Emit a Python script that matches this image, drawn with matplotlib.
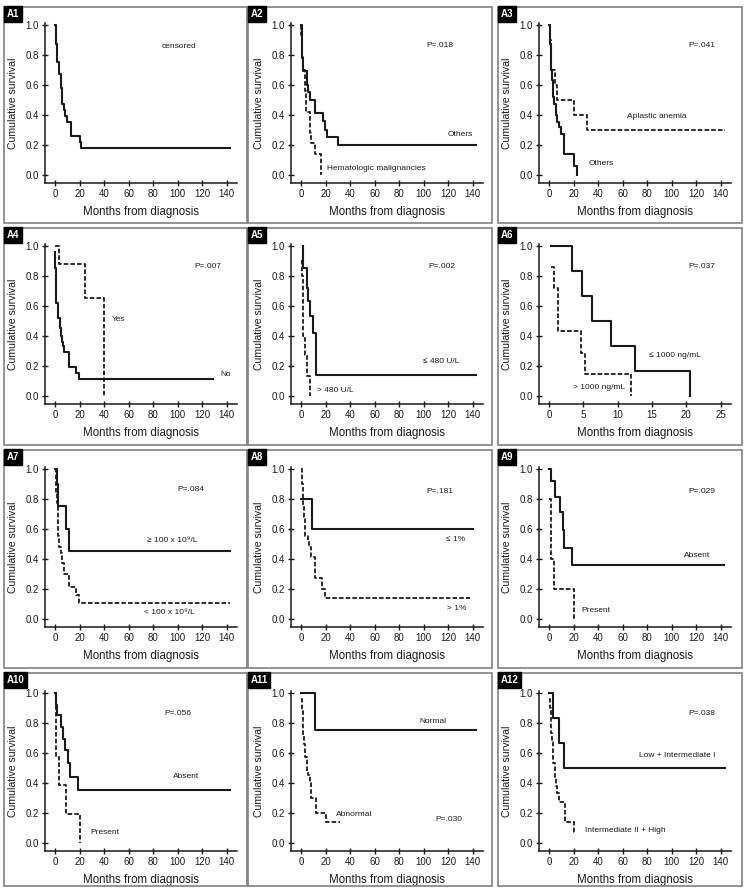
import matplotlib
matplotlib.use("Agg")
import matplotlib.pyplot as plt
from matplotlib.patches import Rectangle

plt.rcParams['font.family'] = ['Liberation Sans', 'DejaVu Sans']

# ---------------- data (event times, survival after event) ----------------
XLABEL = "Months from diagnosis"
YLABEL = "Cumulative survival"
panel_names = ["A1", "A2", "A3", "A4", "A5", "A6", "A7", "A8", "A9", "A10", "A11", "A12"]
y_ticks = [0.0, 0.2, 0.4, 0.6, 0.8, 1.0]
x_ticks_months = [0, 20, 40, 60, 80, 100, 120, 140]
x_ticks_a6 = [0, 5, 10, 15, 20, 25]

# A1
A1_solid_t = [1, 2, 3.5, 4.5, 6, 7.5, 8.5, 10, 13, 20, 21]
A1_solid_s = [0.87, 0.75, 0.67, 0.58, 0.47, 0.43, 0.39, 0.35, 0.26, 0.22, 0.18]
# A2
A2_solid_t = [0.5, 1, 2, 4.5, 6, 7.5, 11, 18, 19.5, 21.5, 30]
A2_solid_s = [0.95, 0.78, 0.69, 0.60, 0.55, 0.50, 0.41, 0.36, 0.30, 0.25, 0.20]
A2_dash_t = [0.3, 1, 2, 3, 4, 7, 8.5, 11, 16]
A2_dash_s = [0.93, 0.79, 0.70, 0.56, 0.42, 0.28, 0.21, 0.14, 0.0]
# A3
A3_solid_t = [0.8, 1.3, 2.2, 3, 4.3, 5.3, 6.5, 8.5, 9.5, 12.5, 20, 22.5]
A3_solid_s = [0.87, 0.70, 0.63, 0.52, 0.47, 0.40, 0.35, 0.32, 0.27, 0.14, 0.06, 0.0]
A3_dash_t = [1, 1.5, 2, 4.6, 6.5, 20.5, 31]
A3_dash_s = [0.9, 0.8, 0.7, 0.6, 0.5, 0.4, 0.3]
# A4
A4_solid_t = [0.3, 1, 2.8, 3.8, 4.5, 5.5, 6.3, 7.5, 11, 17.5, 19.5]
A4_solid_s = [0.85, 0.62, 0.52, 0.45, 0.40, 0.36, 0.33, 0.29, 0.19, 0.15, 0.11]
A4_dash_t = [3, 24.5, 40]
A4_dash_s = [0.875, 0.65, 0.0]
# A5
A5_solid_t = [1.5, 4.5, 5.5, 7, 9.5, 12.5]
A5_solid_s = [0.85, 0.72, 0.63, 0.53, 0.42, 0.14]
A5_dash_t = [0.5, 1.3, 2, 3.5, 4.8, 7.3]
A5_dash_s = [0.8, 0.6, 0.4, 0.27, 0.13, 0.0]
# A6
A6_solid_t = [3.4, 4.85, 6.2, 9.1, 12.5, 20.6]
A6_solid_s = [0.833, 0.667, 0.5, 0.333, 0.167, 0.0]
A6_dash_t = [0.8, 1.3, 4.7, 5.2, 12]
A6_dash_s = [0.714, 0.429, 0.286, 0.143, 0.0]
# A7
A7_solid_t = [1.3, 2.2, 8.6, 11.6]
A7_solid_s = [0.9, 0.75, 0.6, 0.45]
A7_dash_t = [0.5, 1.5, 2.5, 3.5, 4.5, 5.5, 7, 11.5, 17.5, 19.5]
A7_dash_s = [0.84, 0.77, 0.55, 0.48, 0.44, 0.37, 0.30, 0.21, 0.16, 0.105]
# A8
A8_solid_t = [8.8]
A8_solid_s = [0.6]
A8_dash_t = [0.7, 1.5, 2.5, 3.5, 5.5, 6.5, 7.8, 11, 17.5, 19.5]
A8_dash_s = [0.9, 0.75, 0.68, 0.55, 0.52, 0.48, 0.41, 0.27, 0.20, 0.14]
# A9
A9_solid_t = [1.9, 4.8, 8.9, 11.6, 12.4, 19.1]
A9_solid_s = [0.917, 0.81, 0.71, 0.59, 0.47, 0.355]
A9_dash_t = [1.9, 3.8, 20.5]
A9_dash_s = [0.4, 0.2, 0.0]
# A10
A10_solid_t = [0.8, 1.6, 4.6, 6.2, 8.4, 10.5, 11.9, 18.7]
A10_solid_s = [0.92, 0.85, 0.77, 0.69, 0.62, 0.53, 0.44, 0.35]
A10_dash_t = [0.5, 3.2, 8.7, 20.3]
A10_dash_s = [0.571, 0.381, 0.19, 0.0]
# A11
A11_solid_t = [11.6]
A11_solid_s = [0.75]
A11_dash_t = [0.6, 1.3, 2, 2.8, 3.5, 4.5, 6, 7, 8.5, 12, 20]
A11_dash_s = [0.88, 0.79, 0.72, 0.66, 0.57, 0.48, 0.45, 0.40, 0.30, 0.20, 0.135]
# A12
A12_solid_t = [3.2, 8.1, 11.9]
A12_solid_s = [0.833, 0.667, 0.5]
A12_dash_t = [0.5, 1.5, 2.2, 3.2, 4.8, 5.8, 6.8, 8.5, 12.7, 20]
A12_dash_s = [0.9, 0.73, 0.67, 0.53, 0.43, 0.38, 0.33, 0.27, 0.14, 0.07]

# curves per panel: (times, surv, start_time, start_surv, end_time, style)
curves = {
    "A1": [(A1_solid_t, A1_solid_s, 0, 1.0, 143, "solid")],
    "A2": [(A2_solid_t, A2_solid_s, 0, 1.0, 143, "solid"),
           (A2_dash_t, A2_dash_s, 0, 1.0, 16, "dash")],
    "A3": [(A3_dash_t, A3_dash_s, 0, 1.0, 144, "dash"),
           (A3_solid_t, A3_solid_s, 0, 1.0, 22.5, "solid")],
    "A4": [(A4_solid_t, A4_solid_s, 0, 0.96, 129, "solid"),
           (A4_dash_t, A4_dash_s, 0, 1.0, 40, "dash")],
    "A5": [(A5_solid_t, A5_solid_s, 1.3, 1.0, 143, "solid"),
           (A5_dash_t, A5_dash_s, 0, 0.9, 7.3, "dash")],
    "A6": [(A6_solid_t, A6_solid_s, 0.3, 1.0, 20.6, "solid"),
           (A6_dash_t, A6_dash_s, 0.35, 0.857, 12, "dash")],
    "A7": [(A7_solid_t, A7_solid_s, 0, 1.0, 143, "solid"),
           (A7_dash_t, A7_dash_s, 0, 1.0, 143, "dash")],
    "A8": [(A8_solid_t, A8_solid_s, 0, 0.8, 140, "solid"),
           (A8_dash_t, A8_dash_s, 0, 1.0, 138, "dash")],
    "A9": [(A9_solid_t, A9_solid_s, 0, 1.0, 143, "solid"),
           (A9_dash_t, A9_dash_s, 0, 0.8, 20.5, "dash")],
    "A10": [(A10_solid_t, A10_solid_s, 0, 1.0, 143, "solid"),
            (A10_dash_t, A10_dash_s, 0, 1.0, 20.3, "dash")],
    "A11": [(A11_solid_t, A11_solid_s, 0, 1.0, 143, "solid"),
            (A11_dash_t, A11_dash_s, 0, 0.96, 32, "dash")],
    "A12": [(A12_solid_t, A12_solid_s, 0, 1.0, 144, "solid"),
            (A12_dash_t, A12_dash_s, 0, 0.96, 22, "dash")],
}

# annotations: (x, y, text, ha)
annotations = {
    "A1": [(101, 0.855, "censored", "center")],
    "A2": [(113, 0.86, "P=.018", "center"), (130, 0.27, "Others", "center"),
           (21, 0.044, "Hematologic malignancies", "left")],
    "A3": [(125, 0.86, "P=.041", "center"), (88, 0.39, "Aplastic anemia", "center"),
           (42.5, 0.073, "Others", "center")],
    "A4": [(125, 0.86, "P=.007", "center"), (52, 0.51, "Yes", "center"),
           (139, 0.14, "No", "center")],
    "A5": [(115, 0.86, "P=.002", "center"), (114, 0.227, "≤ 480 U/L", "center"),
           (13, 0.033, "> 480 U/L", "left")],
    "A6": [(22.3, 0.86, "P=.037", "center"), (18.4, 0.267, "≤ 1000 ng/mL", "center"),
           (7.3, 0.056, "> 1000 ng/mL", "center")],
    "A7": [(111, 0.857, "P=.084", "center"), (96, 0.52, "≥ 100 x 10⁹/L", "center"),
           (93, 0.04, "< 100 x 10⁹/L", "center")],
    "A8": [(113, 0.85, "P=.181", "center"), (126, 0.53, "≤ 1%", "center"),
           (127, 0.07, "> 1%", "center")],
    "A9": [(124.5, 0.85, "P=.029", "center"), (121, 0.42, "Absent", "center"),
           (38, 0.055, "Present", "center")],
    "A10": [(100, 0.86, "P=.056", "center"), (107, 0.44, "Absent", "center"),
            (40.6, 0.067, "Present", "center")],
    "A11": [(107.5, 0.81, "Normal", "center"), (43, 0.19, "Abnormal", "center"),
            (121, 0.155, "P=.030", "center")],
    "A12": [(124.6, 0.86, "P=.038", "center"), (104.6, 0.58, "Low + Intermediate I", "center"),
            (29, 0.08, "Intermediate II + High", "left")],
}

# ---------------- layout (pixels) ----------------
W, H = 745, 889
col_box = [(4, 247), (248, 492), (498, 742)]
row_box = [(7, 223), (228, 445), (450, 668), (673, 886)]
col_ax_left = [45, 291, 539]
row_ax_bottom = [183, 404, 627, 851]
AX_W, AX_H = 192, 160

fig = plt.figure(figsize=(W / 100, H / 100), dpi=100)
fig.patch.set_facecolor("white")

TXT = "#1a1a1a"

for i, name in enumerate(panel_names):
    r, c = divmod(i, 3)
    bl, br = col_box[c]
    bt, bb = row_box[r]
    # panel frame
    fig.patches.append(Rectangle((bl / W, 1 - bb / H), (br - bl) / W, (bb - bt) / H,
                                 transform=fig.transFigure, fill=False,
                                 edgecolor="#808080", linewidth=1.2))
    fig.text((bl + 2.5) / W, 1 - (bt + 2) / H, name, color="white", fontsize=7,
             fontweight="bold", ha="left", va="top",
             bbox=dict(boxstyle="square,pad=0.28", fc="black", ec="black"))

    left = col_ax_left[c]
    bottom = row_ax_bottom[r]
    ax = fig.add_axes([left / W, 1 - bottom / H, AX_W / W, AX_H / H])

    if name == "A6":
        ax.set_xlim(-1.45, 26.5)
        ax.set_xticks(x_ticks_a6)
    else:
        ax.set_xlim(-8.2, 148.5)
        ax.set_xticks(x_ticks_months)
    ax.set_ylim(-0.055, 1.01)
    ax.set_yticks(y_ticks)
    ax.set_yticklabels([f"{v:.1f}" for v in y_ticks])

    for t, s, t0, s0, tend, style in curves[name]:
        xs = [t0] + list(t) + [tend]
        ys = [s0] + list(s) + [s[-1]]
        if style == "solid":
            ax.step(xs, ys, where="post", color="#1a1a1a", linewidth=1.5)
        else:
            ax.step(xs, ys, where="post", color="#1a1a1a", linewidth=1.3,
                    linestyle=(0, (2.5, 1.2)))

    for x, y, s, ha in annotations[name]:
        ax.text(x, y, s, fontsize=6, ha=ha, va="center", color=TXT)

    for sp in ["top", "right"]:
        ax.spines[sp].set_visible(False)
    for sp in ["left", "bottom"]:
        ax.spines[sp].set_linewidth(1.1)
        ax.spines[sp].set_color("#1a1a1a")
    ax.tick_params(axis="both", direction="inout", length=4, width=1.0,
                   labelsize=7, colors="#1a1a1a", pad=2.5)
    ax.set_xlabel(XLABEL, fontsize=8.3, color=TXT, labelpad=5)
    ax.set_ylabel(YLABEL, fontsize=7.6, color=TXT, labelpad=5)
    ax.patch.set_alpha(0)

fig.savefig("out.png", dpi=100)
